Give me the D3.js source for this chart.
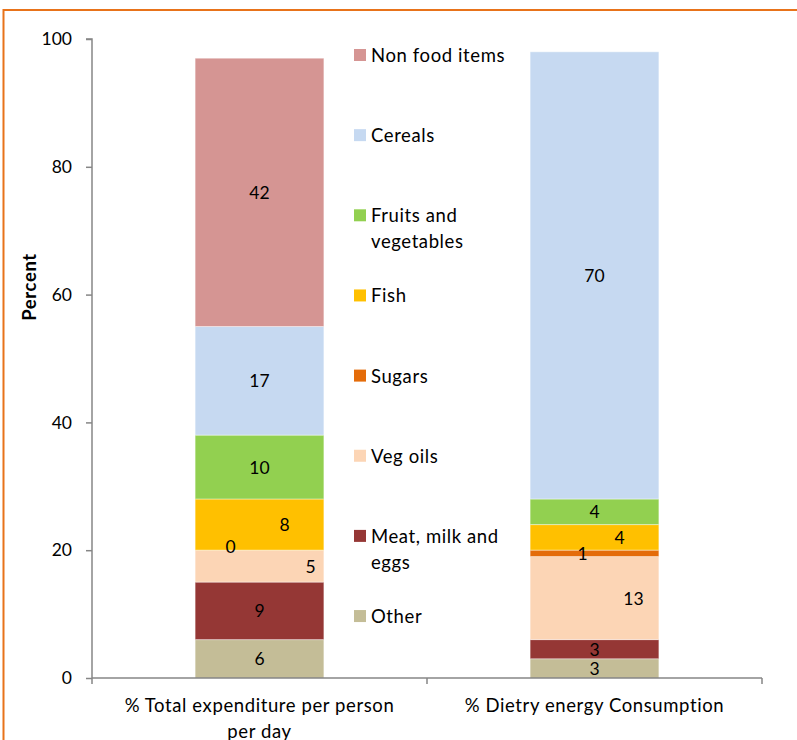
<!DOCTYPE html>
<html>
<head>
<meta charset="utf-8">
<script src="https://cdn.jsdelivr.net/npm/d3@7"></script>
<style>
  html, body { margin: 0; padding: 0; background: #fff; }
  svg { display: block; font-family: Lato, "Open Sans", sans-serif; }
</style>
</head>
<body>
<svg id="chart" width="797" height="740"></svg>
<script>
// ---- data ----
const categories = ["% Total expenditure per person per day", "% Dietry energy Consumption"];
const categoryLines = [["% Total expenditure per person", "per day"], ["% Dietry energy Consumption"]];
const seriesNames = ["Other", "Meat, milk and eggs", "Veg oils", "Sugars", "Fish", "Fruits and vegetables", "Cereals", "Non food items"];
const seriesColors = ["#C4BD97", "#953735", "#FCD5B5", "#E46C0A", "#FFC000", "#92D050", "#C6D9F1", "#D59593"];
const expenditure = [6, 9, 5, 0, 8, 10, 17, 42];
const energy = [3, 3, 13, 1, 4, 4, 70, 0];
const yTicks = [0, 20, 40, 60, 80, 100];
const legendOrder = ["Non food items", "Cereals", "Fruits and vegetables", "Fish", "Sugars", "Veg oils", "Meat, milk and eggs", "Other"];
const legendLines = {"Fruits and vegetables": ["Fruits and", "vegetables"], "Meat, milk and eggs": ["Meat, milk and", "eggs"]};

// ---- layout ----
const svg = d3.select("#chart");
const numSize = 17.5;
const textSize = 18.5;
const textSpacing = 0.6;
const x = d3.scaleBand().domain(categories).range([92, 762]);
const y = d3.scaleLinear().domain([0, 100]).range([678, 39]);
const barW = x.bandwidth() * 0.383;

// label nudges (horizontal px) to mimic the original label placement
const nudge = {
  "0|Fish": 25, "0|Sugars": -29, "0|Veg oils": 51,
  "1|Fish": 25, "1|Sugars": -12, "1|Veg oils": 39
};
const vNudge = { "0|Sugars": -4 };

// border
svg.append("rect").attr("x", 3.5).attr("y", 10).attr("width", 820).attr("height", 760)
  .attr("fill", "none").attr("stroke", "#E8731A").attr("stroke-width", 2);

// stacked data
const rows = categories.map((c, i) => {
  const vals = i === 0 ? expenditure : energy;
  const o = { cat: c };
  seriesNames.forEach((s, j) => o[s] = vals[j]);
  return o;
});
const stack = d3.stack().keys(seriesNames)(rows);
const color = d3.scaleOrdinal().domain(seriesNames).range(seriesColors);

const g = svg.append("g");
stack.forEach(layer => {
  layer.forEach((d, i) => {
    const cx = x(d.data.cat) + x.bandwidth() / 2;
    const h = y(d[0]) - y(d[1]);
    if (h > 0) {
      g.append("rect")
        .attr("x", cx - barW / 2).attr("width", barW)
        .attr("y", y(d[1])).attr("height", h)
        .attr("fill", color(layer.key));
    }
  });
});
// thin white separators like the original
stack.forEach(layer => {
  layer.forEach((d, i) => {
    const cx = x(d.data.cat) + x.bandwidth() / 2;
    if (d[1] - d[0] > 0) {
      g.append("line").attr("x1", cx - barW / 2).attr("x2", cx + barW / 2)
        .attr("y1", y(d[1])).attr("y2", y(d[1]))
        .attr("stroke", "#fff").attr("stroke-opacity", 0.5).attr("stroke-width", 1);
    }
  });
});

// value labels
stack.forEach(layer => {
  layer.forEach((d, i) => {
    const v = d[1] - d[0];
    const key = i + "|" + layer.key;
    if (v === 0 && !(i === 0 && layer.key === "Sugars")) return;
    const cx = x(d.data.cat) + x.bandwidth() / 2 + (nudge[key] || 0);
    const cy = y((d[0] + d[1]) / 2) + (vNudge[key] || 0);
    g.append("text").attr("x", cx).attr("y", cy)
      .attr("text-anchor", "middle").attr("dominant-baseline", "central")
      .attr("font-size", numSize).attr("fill", "#000").text(v);
  });
});

// y axis
const yAxis = svg.append("g").attr("transform", "translate(92,0)")
  .call(d3.axisLeft(y).tickValues(yTicks).tickSize(6).tickPadding(14));
yAxis.selectAll("path, line").attr("stroke", "#868686").attr("stroke-width", 1.5);
yAxis.select(".domain").attr("d", `M-6,${y(100)}H0V${y(0)}`);
yAxis.selectAll("text").attr("font-size", numSize).attr("font-family", "Lato, sans-serif").attr("fill", "#000");

// x axis
const xAxisG = svg.append("g").attr("transform", `translate(0,${y(0)})`);
xAxisG.append("line").attr("x1", 92).attr("x2", 762).attr("y1", 0).attr("y2", 0)
  .attr("stroke", "#868686").attr("stroke-width", 1.5);
[92, ...categories.map(c => x(c) + x.bandwidth())].forEach(px => {
  xAxisG.append("line").attr("x1", px).attr("x2", px).attr("y1", 0).attr("y2", 6)
    .attr("stroke", "#868686").attr("stroke-width", 1.5);
});
categories.forEach((c, i) => {
  const t = xAxisG.append("text").attr("x", x(c) + x.bandwidth() / 2).attr("y", 27)
    .attr("text-anchor", "middle").attr("dominant-baseline", "central")
    .attr("font-size", textSize).attr("letter-spacing", textSpacing).attr("fill", "#000");
  categoryLines[i].forEach((ln, k) => {
    t.append("tspan").attr("x", x(c) + x.bandwidth() / 2).attr("dy", k === 0 ? 0 : 26).text(ln);
  });
});

// y title
svg.append("text").attr("transform", "translate(29,287) rotate(-90)")
  .attr("text-anchor", "middle").attr("dominant-baseline", "central")
  .attr("font-size", textSize).attr("letter-spacing", textSpacing)
  .attr("font-weight", "bold").text("Percent");

// legend
const leg = svg.append("g");
legendOrder.forEach((name, i) => {
  const cy = 55 + i * 80.15;
  leg.append("rect").attr("x", 354).attr("y", cy - 6).attr("width", 12).attr("height", 12)
    .attr("fill", color(name));
  const lines = legendLines[name] || [name];
  const t = leg.append("text").attr("x", 371).attr("y", cy)
    .attr("dominant-baseline", "central").attr("font-size", textSize)
    .attr("letter-spacing", textSpacing).attr("fill", "#000");
  lines.forEach((ln, k) => t.append("tspan").attr("x", 371).attr("dy", k === 0 ? 0 : 26).text(ln));
});
</script>
</body>
</html>
